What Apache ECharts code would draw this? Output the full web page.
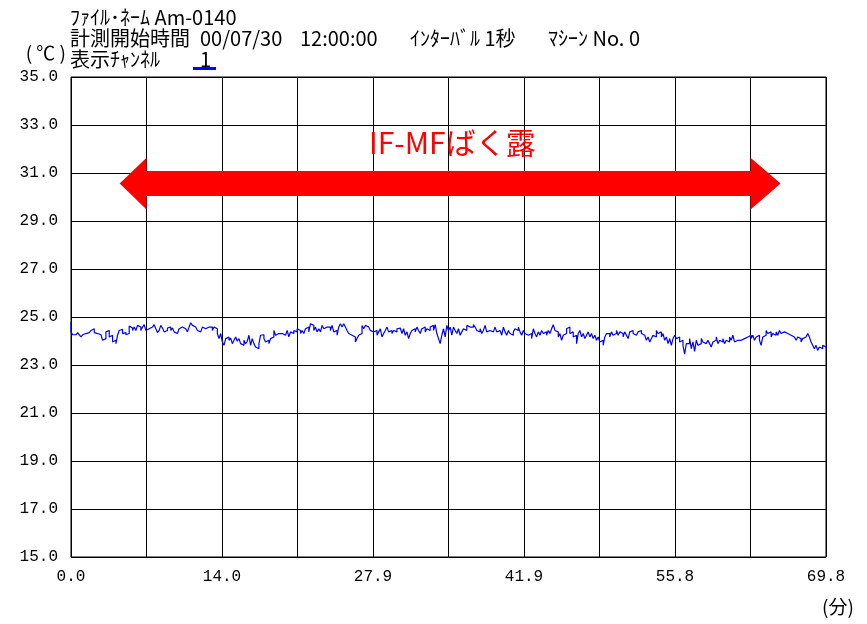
<!DOCTYPE html>
<html>
<head>
<meta charset="utf-8">
<script src="https://cdn.jsdelivr.net/npm/echarts@6/dist/echarts.min.js"></script>
<style>
html,body{margin:0;padding:0;background:#fff;}
#chart{width:867px;height:624px;}
</style>
</head>
<body>
<div id="chart"></div>
<script>
// ---- data ----
const durationMin = 69.8;
const xTickLabels = ['0.0', '14.0', '27.9', '41.9', '55.8', '69.8'];
const yRange = [15, 35];
const temperature = [
24.79,24.38,24.26,24.26,24.24,24.35,24.26,24.17,24.26,24.31,24.24,24.35,24.31,24.44,24.51,24.35,24.31,24.35,24.26,24.21,24.03,24.10,24.38,24.44,24.17,24.24,23.96,24.03,23.89,24.24,24.44,24.49,24.31,24.35,24.26,24.31,24.62,24.54,24.44,24.58,24.44,24.65,24.58,24.44,24.58,24.68,24.44,24.51,24.44,24.58,24.62,24.68,24.51,24.35,24.44,24.65,24.54,24.38,24.44,24.54,24.58,24.44,24.54,24.38,24.31,24.26,
24.51,24.58,24.65,24.51,24.44,24.38,24.58,24.76,24.65,24.58,24.51,24.44,24.38,24.31,24.58,24.51,24.58,24.58,24.51,24.58,24.44,24.58,24.51,24.31,24.10,24.31,23.96,23.82,24.10,24.17,24.03,24.12,23.89,24.03,24.17,23.99,24.10,23.89,23.82,24.03,23.89,23.99,24.24,23.82,24.10,23.89,23.75,23.68,23.89,24.24,24.26,24.10,23.96,24.03,23.89,24.10,24.17,24.44,24.24,24.31,24.38,24.31,24.35,
24.24,24.31,24.44,24.17,24.38,24.31,24.44,24.38,24.51,24.44,24.31,24.44,24.31,24.51,24.58,24.38,24.72,24.65,24.44,24.58,24.38,24.51,24.38,24.65,24.51,24.58,24.51,24.58,24.44,24.65,24.38,24.44,24.24,24.58,24.72,24.58,24.72,24.58,24.44,24.31,24.24,24.31,24.17,23.96,24.10,24.24,24.31,24.65,24.51,24.65,24.58,24.51,24.44,24.38,24.31,24.44,24.24,24.38,24.51,24.17,24.31,24.44,24.58,24.38,24.44,
24.31,24.44,24.38,24.51,24.54,24.58,24.31,24.51,24.24,24.38,24.10,24.31,24.44,24.51,24.38,24.58,24.44,24.31,24.51,24.58,24.38,24.51,24.44,24.58,24.65,24.44,24.68,24.31,24.10,23.89,24.24,24.51,24.17,24.65,24.44,24.58,24.24,24.58,24.44,24.31,24.51,24.24,24.38,24.51,24.44,24.65,24.58,24.51,24.58,24.68,24.58,24.44,24.38,24.51,24.31,24.44,24.65,24.38,24.44,24.51,24.38,24.44,24.58,24.38,24.44,
24.44,24.24,24.58,24.38,24.24,24.44,24.31,24.24,24.38,24.51,24.44,24.58,24.38,24.24,24.44,24.31,24.24,24.17,24.31,24.10,24.51,24.31,24.17,24.38,24.24,24.44,24.31,24.38,24.24,24.44,24.31,24.51,24.68,24.44,24.38,24.17,24.31,24.03,24.24,24.31,24.51,24.58,24.31,24.38,24.17,24.24,23.89,24.31,24.44,24.17,24.31,24.10,24.24,24.38,24.17,24.31,24.10,24.24,24.03,24.17,23.96,24.03,23.82,24.17,24.31,
24.31,24.17,24.38,24.24,24.31,24.44,24.24,24.38,24.31,24.17,24.38,24.24,24.10,24.38,24.44,24.31,24.24,24.17,24.38,24.44,24.31,24.24,24.17,24.03,24.17,23.96,24.10,24.24,24.17,24.44,24.31,24.38,24.17,24.31,24.03,24.17,23.89,24.10,23.82,24.10,24.24,24.10,24.17,23.96,24.03,23.82,23.45,23.89,23.89,24.10,23.68,23.96,23.57,24.03,23.82,23.89,24.10,23.96,23.89,23.82,24.03,23.89,23.75,23.96,24.03,
24.17,23.89,24.03,23.96,24.10,23.89,24.03,23.96,24.17,24.03,24.24,23.96,24.03,23.96,24.03,23.96,24.10,24.03,24.17,24.10,24.24,24.10,24.24,24.03,24.17,24.24,24.03,23.82,24.17,24.24,24.44,24.31,24.38,24.17,24.31,24.24,24.38,24.24,24.44,24.31,24.38,24.44,24.31,24.38,24.24,24.31,24.17,24.24,24.03,24.17,24.10,23.96,24.10,24.17,24.24,24.31,24.17,23.96,23.82,23.68,23.82,23.61,23.75,23.68,23.82,23.75
];
// exposure annotation (minutes, °C)
const exposureLabel = 'IF-MFばく露';
const exposureSpan = [4.5, 65.6];
const exposureShaft = [6.98, 62.82];

// ---- build ----
const n = temperature.length;
const seriesData = temperature.map((v, i) => [i * durationMin / (n - 1), v]);
const xStep = durationMin / 10;

const cjk = '"Noto Sans CJK JP", sans-serif';
const mono = '"Liberation Mono", "DejaVu Sans Mono", monospace';

const chart = echarts.init(document.getElementById('chart'), null, {renderer: 'canvas'});

function hdr(x, y, text, size) {
  return {
    type: 'text', x: x, y: y, silent: true,
    style: {text: text, fill: '#000', font: (size || 20) + 'px ' + cjk, textVerticalAlign: 'middle'}
  };
}

const option = {
  animation: false,
  backgroundColor: '#fff',
  grid: {left: 71, top: 77, right: 41, bottom: 67, show: true, borderColor: '#000', borderWidth: 1, backgroundColor: '#fff'},
  xAxis: {
    type: 'value', min: 0, max: durationMin, interval: xStep,
    axisLine: {show: false}, axisTick: {show: false},
    splitLine: {show: true, lineStyle: {color: '#000', width: 1}},
    axisLabel: {
      margin: 12, color: '#000', fontSize: 16, fontFamily: mono,
      formatter: function (v) {
        const k = Math.round(v / xStep);
        return k % 2 === 0 ? xTickLabels[k / 2] : '';
      }
    },
    name: '(分)', nameLocation: 'end', nameGap: -4,
    nameTextStyle: {color: '#000', fontSize: 19, fontFamily: cjk, align: 'left', verticalAlign: 'top', padding: [40, 0, 0, 0]}
  },
  yAxis: {
    type: 'value', min: yRange[0], max: yRange[1], interval: 2,
    axisLine: {show: false}, axisTick: {show: false},
    splitLine: {show: true, lineStyle: {color: '#000', width: 1}},
    axisLabel: {margin: 13, color: '#000', fontSize: 16, fontFamily: mono, formatter: v => v.toFixed(1)},
    name: '( ℃ )', nameLocation: 'end', nameGap: 15,
    nameTextStyle: {color: '#000', fontSize: 19, fontFamily: cjk, align: 'right', padding: [0, 5, 0, 0]}
  },
  series: [
    {
      type: 'line', data: seriesData, showSymbol: false, step: 'start',
      lineStyle: {color: '#0000ff', width: 1.2}, silent: true, z: 3
    },
    {
      type: 'custom', coordinateSystem: 'cartesian2d', silent: true, z: 5,
      data: [[exposureSpan[0], exposureSpan[1], 30.56]],
      renderItem: function (params, api) {
        const y = api.value(2);
        const tipL = api.coord([api.value(0), y]);
        const tipR = api.coord([api.value(1), y]);
        const sL = api.coord([exposureShaft[0], y + 0.52]);
        const sL2 = api.coord([exposureShaft[0], y - 0.52]);
        const hTop = api.coord([exposureShaft[0], y + 1.08]);
        const hBot = api.coord([exposureShaft[0], y - 1.08]);
        const rTop = api.coord([exposureShaft[1], y + 1.08]);
        const rBot = api.coord([exposureShaft[1], y - 1.08]);
        const r1 = api.coord([exposureShaft[1], y + 0.52]);
        const r2 = api.coord([exposureShaft[1], y - 0.52]);
        const txt = api.coord([(exposureSpan[0] + exposureSpan[1]) / 2 + 0.2, 32.25]);
        return {
          type: 'group',
          children: [
            {
              type: 'polygon',
              shape: {points: [tipL, hTop, sL, r1, rTop, tipR, rBot, r2, sL2, hBot]},
              style: {fill: '#ff0000', stroke: null}
            },
            {
              type: 'text', x: txt[0], y: txt[1],
              style: {text: exposureLabel, fill: '#ff0000', font: '30px ' + cjk, textAlign: 'center', textVerticalAlign: 'middle'}
            }
          ]
        };
      }
    }
  ],
  graphic: [
    hdr(70, 17, 'ﾌｧｲﾙ･ﾈｰﾑ Am-0140'),
    hdr(70, 38, '計測開始時間'),
    hdr(200, 38, '00/07/30'),
    hdr(300, 38, '12:00:00'),
    hdr(410, 38, 'ｲﾝﾀｰﾊﾞﾙ 1秒'),
    hdr(548, 38, 'ﾏｼｰﾝ No. 0'),
    hdr(70, 59, '表示ﾁｬﾝﾈﾙ'),
    hdr(200, 59, '1'),
    {type: 'rect', silent: true, shape: {x: 193, y: 67, width: 23, height: 3}, style: {fill: '#0000ff'}}
  ]
};
chart.setOption(option);
</script>
</body>
</html>
